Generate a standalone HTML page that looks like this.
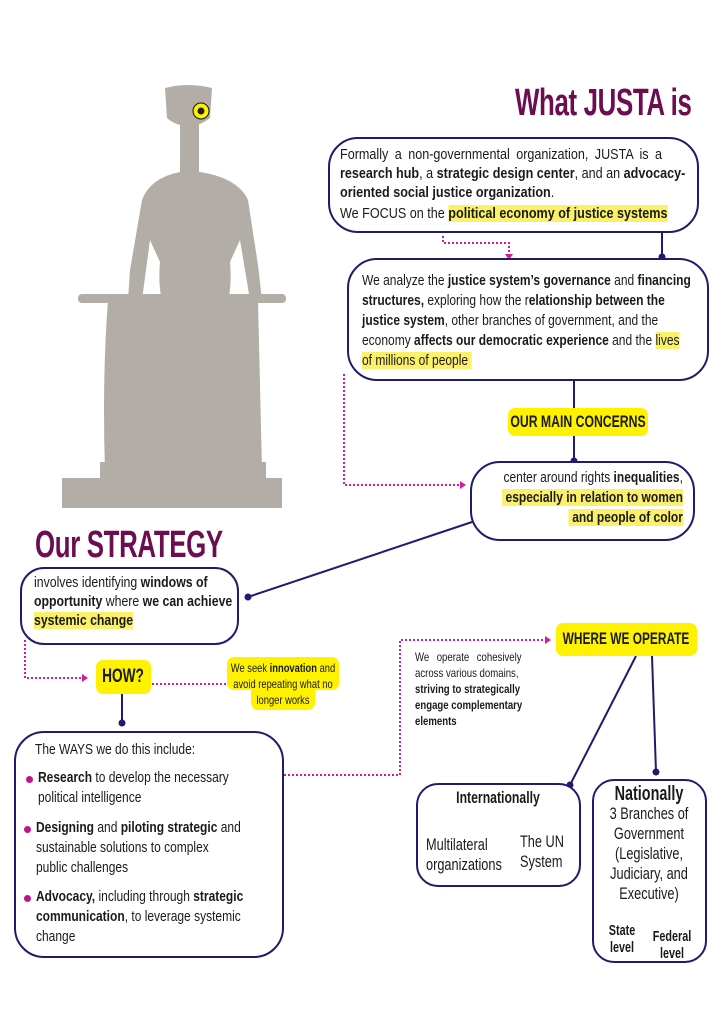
<!DOCTYPE html>
<html><head><meta charset="utf-8"><style>
*{margin:0;padding:0;box-sizing:border-box}
body{width:724px;height:1024px;background:#fff;position:relative;overflow:hidden;font-family:"Liberation Sans",sans-serif;color:#1a1a1a}
.a{position:absolute}
.box{position:absolute;border:2px solid #1f1b6e;background:#fff}
.c{position:absolute;white-space:nowrap;transform:scaleX(.8);transform-origin:0 0;font-size:15px;line-height:20px}
.r{transform-origin:100% 0;text-align:right}
.m{transform-origin:50% 0;text-align:center}
b{font-weight:bold}
.hl{background:#fbf06a}
.tag{position:absolute;background:#fff200;border-radius:7px}
h1{position:absolute;color:#6b0d50;font-size:38px;font-weight:bold;white-space:nowrap;transform:scaleX(.68);transform-origin:0 0;letter-spacing:-0.5px}
.bul{position:absolute;width:7px;height:7px;border-radius:50%;background:#c0138c}
</style></head><body>
<svg class="a" style="left:0;top:0" width="724" height="1024">
<g fill="#b3ada7">
<path d="M165 88 Q188 82 212 88 L210 118 Q200 126 188 126 Q176 126 167 118Z"/>
<rect x="180" y="120" width="19" height="60"/>
<path d="M180 172 Q150 178 142 200 L130 270 L128 300 L142 300 L150 240 L160 262 Q158 285 162 300 L228 300 Q232 285 230 262 L240 240 L250 300 L262 300 L258 265 L248 200 Q238 178 200 172Z"/>
<rect x="78" y="294" width="208" height="9" rx="4"/>
<path d="M108 300 L258 300 L262 470 L105 470 Q102 380 108 300Z"/>
<rect x="62" y="478" width="220" height="30"/>
<rect x="100" y="462" width="166" height="18"/>
</g>
<g fill="none" stroke="#1f1b6e" stroke-width="2">
<line x1="662" y1="232" x2="662" y2="258"/>
<line x1="574" y1="380" x2="574" y2="408"/>
<line x1="574" y1="436" x2="574" y2="462"/>
<line x1="248" y1="597" x2="472" y2="522"/>
<line x1="122" y1="694" x2="122" y2="723"/>
<line x1="636" y1="656" x2="570" y2="785"/>
<line x1="652" y1="656" x2="656" y2="772"/>
</g>
<g fill="#1f1b6e">
<circle cx="662" cy="257" r="3.5"/><circle cx="574" cy="461" r="3.5"/><circle cx="248" cy="597" r="3.5"/><circle cx="122" cy="723" r="3.5"/><circle cx="570" cy="785" r="3.5"/><circle cx="656" cy="772" r="3.5"/>
</g>
<g fill="none" stroke="#d21c9a" stroke-width="2" stroke-dasharray="2 2">
<path d="M443 236 L443 243 L509 243 L509 256"/>
<path d="M344 374 L344 485 L460 485"/>
<path d="M25 640 L25 678 L82 678"/>
<path d="M152 684 L228 684"/>
<path d="M284 775 L400 775 L400 640 L545 640"/>
</g>
<g fill="#d21c9a">
<path d="M505 254 L513 254 L509 260Z"/>
<path d="M460 481 L466 485 L460 489Z"/>
<path d="M82 674 L88 678 L82 682Z"/>
<path d="M545 636 L551 640 L545 644Z"/>
</g>
<g stroke="#c0138c" stroke-width="2" fill="#c0138c">
<line x1="472" y1="815" x2="467" y2="824"/><path d="M463 820 L466 827 L471 822Z"/>
<line x1="524" y1="815" x2="528" y2="823"/><path d="M524 823 L530 827 L531 820Z"/>
<line x1="626" y1="910" x2="621" y2="918"/><path d="M617 914 L620 921 L625 916Z"/>
<line x1="667" y1="913" x2="671" y2="921"/><path d="M667 921 L673 925 L674 918Z"/>
</g>
<circle cx="201" cy="111" r="8" fill="#fff200" stroke="#111" stroke-width="1"/>
<circle cx="201" cy="111" r="3.5" fill="#222"/>
</svg>

<h1 style="left:515px;top:82px">What JUSTA is</h1>
<h1 style="left:35px;top:524px">Our STRATEGY</h1>

<div class="box" style="left:328px;top:137px;width:371px;height:96px;border-radius:30px"></div>
<div class="c" style="left:340px;top:145px;line-height:19px;transform:scaleX(.84)">
<div style="word-spacing:3.5px">Formally a non-governmental organization, JUSTA is a</div>
<div><b>research hub</b>, a <b>strategic design center</b>, and an <b>advocacy-</b></div>
<div><b>oriented social justice organization</b>.</div>
<div style="margin-top:2px">We FOCUS on the <b class="hl">political economy of justice systems</b></div>
</div>

<div class="box" style="left:347px;top:258px;width:362px;height:123px;border-radius:30px"></div>
<div class="c" style="left:362px;top:271px;transform:scaleX(.8)">
We analyze the <b>justice system’s governance</b> and <b>financing</b><br>
<b>structures,</b> exploring how the r<b>elationship between the</b><br>
<b>justice system</b>, other branches of government, and the<br>
economy <b>affects our democratic experience</b> and the <span class="hl">lives</span><br>
<span class="hl">of millions of people&nbsp;</span></div>

<div class="tag" style="left:508px;top:408px;width:140px;height:28px"></div>
<div class="c m" style="left:478px;top:412px;width:200px;font-size:17px;font-weight:bold;transform:scaleX(.72)">OUR MAIN CONCERNS</div>

<div class="box" style="left:470px;top:461px;width:225px;height:80px;border-radius:30px"></div>
<div class="c r" style="right:41px;top:468px;transform:scaleX(.8)">
center around rights <b>inequalities</b>,<br>
<b class="hl">&nbsp;especially in relation to women</b><br>
<b class="hl">&nbsp;and people of color</b></div>

<div class="box" style="left:20px;top:567px;width:219px;height:78px;border-radius:24px"></div>
<div class="c" style="left:34px;top:573px;line-height:19px;transform:scaleX(.82)">
involves identifying <b>windows of</b><br>
<b>opportunity</b> where <b>we can achieve</b><br>
<b class="hl">systemic change</b></div>

<div class="tag" style="left:96px;top:660px;width:55px;height:34px"></div>
<div class="c m" style="left:83px;top:666px;width:80px;font-size:19px;line-height:22px;font-weight:bold;transform:scaleX(.72)">HOW?</div>
<div class="tag" style="left:227px;top:657px;width:112px;height:33px"></div>
<div class="tag" style="left:251px;top:686px;width:64px;height:24px;border-radius:0 0 7px 7px"></div>
<div class="c m" style="left:213px;top:660px;width:140px;font-size:12px;line-height:16px;transform:scaleX(.78)">We seek <b>innovation</b> and<br>avoid repeating what no<br>longer works</div>

<div class="box" style="left:14px;top:731px;width:270px;height:227px;border-radius:30px"></div>
<div class="c" style="left:35px;top:740px;transform:scaleX(.8)">The WAYS we do this include:</div>
<span class="bul" style="left:26px;top:776px"></span>
<div class="c" style="left:38px;top:768px;transform:scaleX(.8)"><b>Research</b> to develop the necessary<br>political intelligence</div>
<span class="bul" style="left:24px;top:826px"></span>
<div class="c" style="left:36px;top:818px;transform:scaleX(.8)"><b>Designing</b> and <b>piloting strategic</b> and<br>sustainable solutions to complex<br>public challenges</div>
<span class="bul" style="left:24px;top:895px"></span>
<div class="c" style="left:36px;top:887px;transform:scaleX(.8)"><b>Advocacy,</b> including through <b>strategic</b><br><b>communication</b>, to leverage systemic<br>change</div>

<div class="tag" style="left:556px;top:623px;width:141px;height:33px"></div>
<div class="c m" style="left:526px;top:629px;width:200px;font-size:17px;font-weight:bold;transform:scaleX(.7)">WHERE WE OPERATE</div>
<div class="c" style="left:415px;top:649px;font-size:12px;line-height:16px;transform:scaleX(.8)">
<div style="word-spacing:6px">We operate cohesively</div>
<div>across various domains,</div>
<div><b>striving to strategically</b></div>
<div><b>engage complementary</b></div>
<div><b>elements</b></div></div>

<div class="box" style="left:416px;top:783px;width:165px;height:104px;border-radius:22px"></div>
<div class="c m" style="left:398px;top:788px;width:200px;font-size:17px;font-weight:bold;transform:scaleX(.72)">Internationally</div>
<div class="c" style="left:426px;top:835px;font-size:17px;transform:scaleX(.75)">Multilateral<br>organizations</div>
<div class="c" style="left:520px;top:832px;font-size:17px;transform:scaleX(.75)">The UN<br>System</div>

<div class="box" style="left:592px;top:779px;width:115px;height:184px;border-radius:22px"></div>
<div class="c m" style="left:599px;top:783px;width:100px;font-size:20px;line-height:22px;font-weight:bold;transform:scaleX(.72)">Nationally</div>
<div class="c m" style="left:579px;top:804px;width:140px;font-size:17px;transform:scaleX(.75)">3 Branches of<br>Government<br>(Legislative,<br>Judiciary, and<br>Executive)</div>
<div class="c m" style="left:597px;top:922px;width:50px;font-size:15px;line-height:17px;font-weight:bold;transform:scaleX(.72)">State<br>level</div>
<div class="c m" style="left:642px;top:928px;width:60px;font-size:15px;line-height:17px;font-weight:bold;transform:scaleX(.72)">Federal<br>level</div>
</body></html>
